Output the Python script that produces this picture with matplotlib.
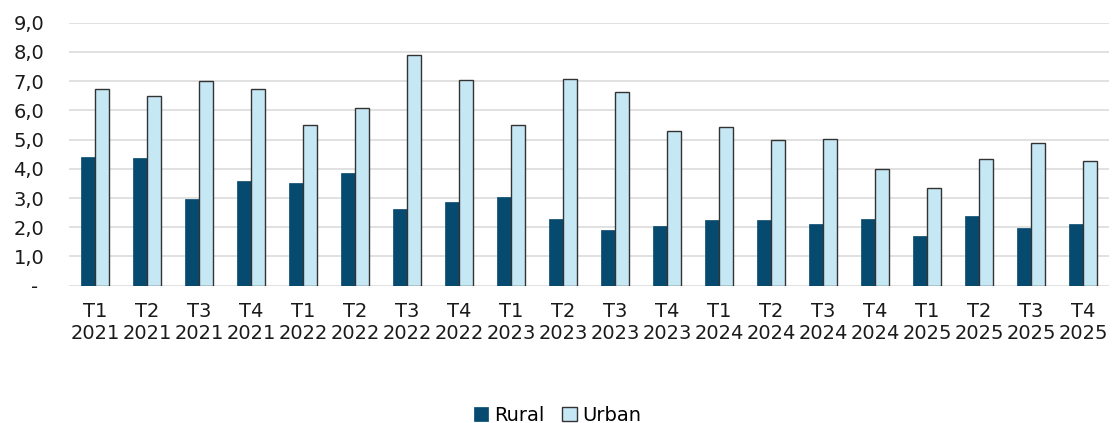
import numpy as np
import matplotlib
matplotlib.use('Agg')
import matplotlib.pyplot as plt

# quarter labels
quarters = ['T1', 'T2', 'T3', 'T4'] * 5
years = ['2021'] * 4 + ['2022'] * 4 + ['2023'] * 4 + ['2024'] * 4 + ['2025'] * 4
labels = [q + '\n' + y for q, y in zip(quarters, years)]

rural = [4.39, 4.37, 2.97, 3.57, 3.51, 3.86, 2.63, 2.86, 3.05, 2.28,
         1.92, 2.06, 2.25, 2.26, 2.11, 2.28, 1.69, 2.40, 1.97, 2.11]
urban = [6.72, 6.50, 7.00, 6.72, 5.51, 6.09, 7.88, 7.03, 5.50, 7.09,
         6.62, 5.30, 5.43, 4.98, 5.02, 3.98, 3.34, 4.33, 4.88, 4.27]

plt.rcParams['font.family'] = ['DejaVu Sans']

fig = plt.figure(figsize=(11.15, 4.23), dpi=100)
ax = fig.add_axes([0.062, 0.3246, 0.9326, 0.6217])

x = np.arange(len(labels))
w = 0.27
ax.bar(x - w / 2, rural, w, color='#074a6f', edgecolor='#074a6f', linewidth=0.5, label='Rural', zorder=3)
ax.bar(x + w / 2, urban, w, color='#c6e7f4', edgecolor='#333333', linewidth=1.0, label='Urban', zorder=3)

ax.set_ylim(0, 9)
ax.set_xlim(-0.5, len(labels) - 0.5)
ax.set_yticks(np.arange(0, 10, 1))
ax.set_yticklabels(['- '] + ['%d,0' % i for i in range(1, 10)])
ax.set_xticks(x)
ax.set_xticklabels(labels, linespacing=1.15)
ax.tick_params(axis='both', length=0, labelsize=14, colors='#1a1a1a')
ax.tick_params(axis='x', pad=12)
ax.tick_params(axis='y', pad=18)
ax.grid(axis='y', color='#dcdcdc', linewidth=1.2, zorder=0)
for s in ax.spines.values():
    s.set_visible(False)

fig.legend(loc='lower center', bbox_to_anchor=(0.5, -0.045), ncol=2, frameon=False,
           fontsize=14, handlelength=0.75, handleheight=0.75, handletextpad=0.3, columnspacing=0.9)

plt.savefig('out.png', dpi=100)
